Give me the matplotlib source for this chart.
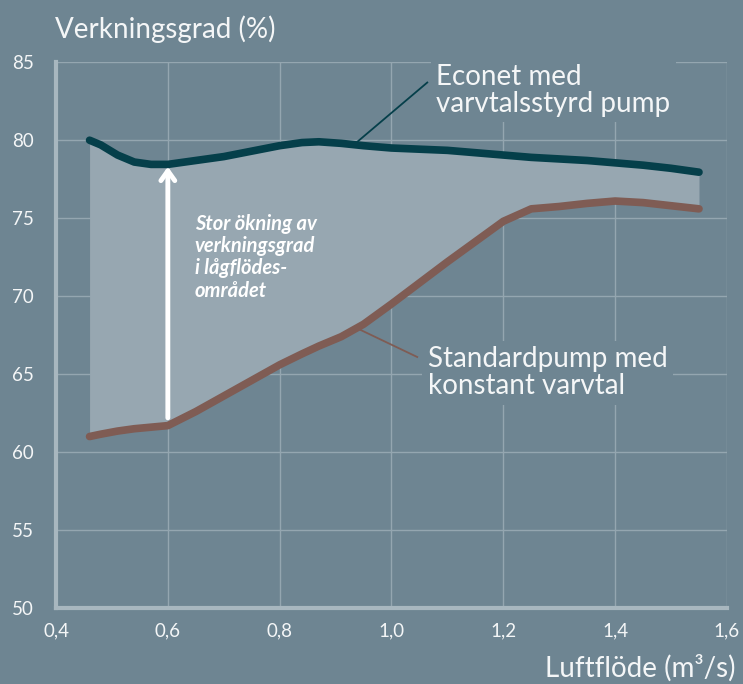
import matplotlib.pyplot as plt
import numpy as np

# ---------------------------
# Data
# ---------------------------
flow = [0.46, 0.48, 0.51, 0.54, 0.57, 0.60, 0.65, 0.70, 0.75, 0.80, 0.84, 0.87,
        0.91, 0.95, 1.00, 1.10, 1.20, 1.25, 1.30, 1.35, 1.40, 1.45, 1.50, 1.55]
econet = [80.0, 79.7, 79.05, 78.6, 78.45, 78.45, 78.7, 78.95, 79.3, 79.65, 79.85, 79.9,
          79.8, 79.65, 79.5, 79.35, 79.05, 78.9, 78.8, 78.7, 78.55, 78.4, 78.2, 77.95]
standard = [61.0, 61.15, 61.35, 61.5, 61.6, 61.7, 62.6, 63.6, 64.6, 65.6, 66.3, 66.8,
            67.4, 68.2, 69.5, 72.2, 74.8, 75.6, 75.75, 75.95, 76.1, 76.0, 75.8, 75.6]

x_ticks = [0.4, 0.6, 0.8, 1.0, 1.2, 1.4, 1.6]
x_ticklabels = ["0,4", "0,6", "0,8", "1,0", "1,2", "1,4", "1,6"]
y_ticks = [50, 55, 60, 65, 70, 75, 80, 85]

bg = "#6e8592"
fill_col = "#97a7b1"
teal = "#053f4a"
brown = "#7f5c54"
grid_col = "#94a6b0"
spine_col = "#a8b7bf"
txt = "#f4f6f7"

plt.rcParams['font.family'] = ['Lato', 'DejaVu Sans']

fig = plt.figure(figsize=(7.43, 6.84), dpi=100, facecolor=bg)
ax = fig.add_axes([0.0754, 0.111, 0.903, 0.798], facecolor=bg)

ax.fill_between(flow, standard, econet, color=fill_col, lw=0, zorder=1)
ax.plot(flow, econet, color=teal, lw=5.5, solid_capstyle='round',
        solid_joinstyle='round', zorder=4)
ax.plot(flow, standard, color=brown, lw=5.5, solid_capstyle='round',
        solid_joinstyle='round', zorder=4)

ax.set_xlim(0.4, 1.6)
ax.set_ylim(50, 85)
ax.set_xticks(x_ticks)
ax.set_xticklabels(x_ticklabels)
ax.set_yticks(y_ticks)
ax.grid(True, color=grid_col, lw=1.0, zorder=0)
ax.set_axisbelow(True)
ax.tick_params(length=0, colors=txt, labelsize=13.5)
ax.tick_params(axis='x', pad=10)
ax.tick_params(axis='y', pad=16)
for s in ['top', 'right']:
    ax.spines[s].set_visible(False)
for s in ['left', 'bottom']:
    ax.spines[s].set_color(spine_col)
    ax.spines[s].set_linewidth(3)

# arrow showing the gain at low flow
ax.annotate("", xy=(0.6, 78.3), xytext=(0.6, 62.2),
            arrowprops=dict(arrowstyle='->,head_width=0.5,head_length=0.7',
                            color='white', lw=3.5, shrinkA=0, shrinkB=0),
            zorder=5)
ax.text(0.648, 75.3, "Stor ökning av\nverkningsgrad\ni lågflödes-\nområdet",
        color='white', fontsize=14.5, fontweight='bold', fontstyle='italic',
        va='top', ha='left', linespacing=1.15, zorder=5)

# labels with leader lines
ax.plot([0.934, 1.064], [79.75, 83.7], color=teal, lw=1.3, zorder=3)
ax.text(1.08, 83.2, "Econet med\nvarvtalsstyrd pump", color=txt, fontsize=20,
        va='center', ha='left', linespacing=1.05, zorder=6,
        bbox=dict(facecolor=bg, edgecolor='none', pad=4))

ax.plot([0.938, 1.046], [67.95, 66.1], color=brown, lw=1.3, zorder=3)
ax.text(1.065, 65.1, "Standardpump med\nkonstant varvtal", color=txt, fontsize=20,
        va='center', ha='left', linespacing=1.05, zorder=6,
        bbox=dict(facecolor=bg, edgecolor='none', pad=4))

fig.text(0.074, 0.958, "Verkningsgrad (%)", color=txt, fontsize=20,
         ha='left', va='center')
fig.text(0.99, 0.023, "Luftflöde (m³/s)", color=txt, fontsize=20,
         ha='right', va='center')

fig.savefig("out.png", dpi=100, facecolor=bg)
